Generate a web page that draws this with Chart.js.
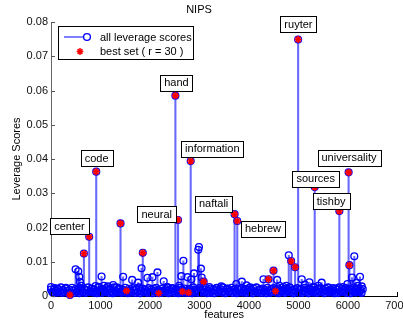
<!DOCTYPE html>
<html>
<head>
<meta charset="utf-8">
<title>NIPS leverage scores</title>
<script src="https://cdn.jsdelivr.net/npm/chart.js@4/dist/chart.umd.min.js"></script>
<style>
    html, body { margin: 0; padding: 0; background: #fff; }
    canvas { display: block; }
</style>
</head>
<body>
<canvas id="chartLeverage" width="403" height="322"></canvas>
<script>
// Stem plot - leverage scores of NIPS features

const chartTitle = 'NIPS';
const xTitle = 'features';
const yTitle = 'Leverage Scores';
const xTicks = [0, 1000, 2000, 3000, 4000, 5000, 6000, 7000];
const yTicks = [0, 0.01, 0.02, 0.03, 0.04, 0.05, 0.06, 0.07, 0.08];

// Features rising above the dense band
const featureIdx = [
    0, 60, 120, 302, 383, 497, 551, 571, 585, 610, 665, 772, 900, 914, 960, 1022, 1070,
    1150, 1256, 1330, 1405, 1458, 1526, 1640, 1761, 1830, 1855, 1949, 2050, 2151, 2177, 2278,
    2350, 2450, 2514, 2567, 2590, 2635, 2655, 2675, 2760, 2782, 2823, 2837, 2890, 2976, 2990,
    3030, 3045, 3085, 3200, 3350, 3441, 3560, 3710, 3744, 3764, 3857, 3950, 4026, 4150, 4294,
    4395, 4496, 4536, 4570, 4620, 4700, 4752, 4805, 4853, 4933, 4994, 5067, 5130, 5222, 5300,
    5329, 5400, 5470, 5600, 5699, 5827, 5900, 5990, 6014, 6030, 6083, 6129, 6170, 6200, 6244, 6280
];
const leverage = [
    0.0026, 0.0019, 0.0021, 0.0024, 0.0003, 0.0078, 0.0072, 0.0056, 0.0041, 0.0030, 0.0124, 0.0173, 0.0029, 0.0363, 0.0027, 0.0057, 0.0030,
    0.0028, 0.0032, 0.0025, 0.0212, 0.0056, 0.0015, 0.0047, 0.0039, 0.0081, 0.0126, 0.0053, 0.0055, 0.0069, 0.0008, 0.0043,
    0.0026, 0.0022, 0.0585, 0.0222, 0.0030, 0.0058, 0.0013, 0.0103, 0.0055, 0.0010, 0.0394, 0.0049, 0.0066, 0.0135, 0.0143,
    0.0080, 0.0054, 0.0042, 0.0026, 0.0024, 0.0028, 0.0022, 0.0239, 0.0035, 0.0219, 0.0042, 0.0031, 0.0025, 0.0024, 0.0049,
    0.0049, 0.0074, 0.0014, 0.0047, 0.0030, 0.0026, 0.0030, 0.0119, 0.0102, 0.0084, 0.0749, 0.0049, 0.0033, 0.0040, 0.0027,
    0.0318, 0.0030, 0.0039, 0.0025, 0.0023, 0.0248, 0.0026, 0.0035, 0.0361, 0.0090, 0.0054, 0.0116, 0.0038, 0.0030, 0.0056, 0.0028
];

// Dense band of small scores along the baseline
const bandIdx = [
    0, 25, 50, 75, 100, 125, 150, 175, 200, 225, 250, 275, 300, 325, 350, 375,
    400, 425, 450, 475, 500, 525, 550, 575, 600, 625, 650, 675, 700, 725, 750, 775,
    800, 825, 850, 875, 900, 925, 950, 975, 1000, 1025, 1050, 1075, 1100, 1125, 1150, 1175,
    1200, 1225, 1250, 1275, 1300, 1325, 1350, 1375, 1400, 1425, 1450, 1475, 1500, 1525, 1550, 1575,
    1600, 1625, 1650, 1675, 1700, 1725, 1750, 1775, 1800, 1825, 1850, 1875, 1900, 1925, 1950, 1975,
    2000, 2025, 2050, 2075, 2100, 2125, 2150, 2175, 2200, 2225, 2250, 2275, 2300, 2325, 2350, 2375,
    2400, 2425, 2450, 2475, 2500, 2525, 2550, 2575, 2600, 2625, 2650, 2675, 2700, 2725, 2750, 2775,
    2800, 2825, 2850, 2875, 2900, 2925, 2950, 2975, 3000, 3025, 3050, 3075, 3100, 3125, 3150, 3175,
    3200, 3225, 3250, 3275, 3300, 3325, 3350, 3375, 3400, 3425, 3450, 3475, 3500, 3525, 3550, 3575,
    3600, 3625, 3650, 3675, 3700, 3725, 3750, 3775, 3800, 3825, 3850, 3875, 3900, 3925, 3950, 3975,
    4000, 4025, 4050, 4075, 4100, 4125, 4150, 4175, 4200, 4225, 4250, 4275, 4300, 4325, 4350, 4375,
    4400, 4425, 4450, 4475, 4500, 4525, 4550, 4575, 4600, 4625, 4650, 4675, 4700, 4725, 4750, 4775,
    4800, 4825, 4850, 4875, 4900, 4925, 4950, 4975, 5000, 5025, 5050, 5075, 5100, 5125, 5150, 5175,
    5200, 5225, 5250, 5275, 5300, 5325, 5350, 5375, 5400, 5425, 5450, 5475, 5500, 5525, 5550, 5575,
    5600, 5625, 5650, 5675, 5700, 5725, 5750, 5775, 5800, 5825, 5850, 5875, 5900, 5925, 5950, 5975,
    6000, 6025, 6050, 6075, 6100, 6125, 6150, 6175, 6200, 6225, 6250, 6275, 6300
];
const bandScores = [
    0.0019, 0.0012, 0.0008, 0.0023, 0.0015, 0.0010, 0.0020, 0.0013, 0.0025, 0.0009, 0.0017, 0.0011, 0.0022, 0.0014, 0.0008, 0.0018,
    0.0010, 0.0024, 0.0016, 0.0009, 0.0021, 0.0013, 0.0018, 0.0008, 0.0023, 0.0015, 0.0011, 0.0020, 0.0009, 0.0017, 0.0025, 0.0012,
    0.0016, 0.0022, 0.0010, 0.0019, 0.0014, 0.0008, 0.0024, 0.0012, 0.0018, 0.0009, 0.0021, 0.0015, 0.0011, 0.0023, 0.0017, 0.0009,
    0.0020, 0.0013, 0.0008, 0.0025, 0.0016, 0.0010, 0.0019, 0.0022, 0.0012, 0.0009, 0.0018, 0.0014, 0.0024, 0.0011, 0.0008, 0.0021,
    0.0015, 0.0010, 0.0023, 0.0017, 0.0009, 0.0020, 0.0013, 0.0025, 0.0008, 0.0016, 0.0022, 0.0011, 0.0018, 0.0014, 0.0009, 0.0023,
    0.0012, 0.0019, 0.0008, 0.0021, 0.0015, 0.0024, 0.0010, 0.0017, 0.0013, 0.0009, 0.0022, 0.0016, 0.0011, 0.0020, 0.0025, 0.0008,
    0.0018, 0.0011, 0.0023, 0.0014, 0.0009, 0.0020, 0.0016, 0.0008, 0.0024, 0.0012, 0.0019, 0.0010, 0.0022, 0.0015, 0.0009, 0.0017,
    0.0021, 0.0013, 0.0008, 0.0025, 0.0011, 0.0018, 0.0015, 0.0009, 0.0023, 0.0017, 0.0010, 0.0020, 0.0012, 0.0024, 0.0008, 0.0016,
    0.0009, 0.0022, 0.0014, 0.0019, 0.0008, 0.0017, 0.0023, 0.0011, 0.0015, 0.0020, 0.0010, 0.0025, 0.0013, 0.0008, 0.0018, 0.0021,
    0.0012, 0.0016, 0.0024, 0.0009, 0.0019, 0.0014, 0.0008, 0.0022, 0.0017, 0.0011, 0.0023, 0.0010, 0.0015, 0.0020, 0.0009, 0.0018,
    0.0023, 0.0011, 0.0017, 0.0008, 0.0021, 0.0014, 0.0025, 0.0010, 0.0016, 0.0019, 0.0009, 0.0022, 0.0013, 0.0018, 0.0008, 0.0024,
    0.0015, 0.0009, 0.0020, 0.0012, 0.0023, 0.0017, 0.0010, 0.0021, 0.0008, 0.0016, 0.0024, 0.0013, 0.0019, 0.0009, 0.0022, 0.0014,
    0.0018, 0.0025, 0.0011, 0.0016, 0.0008, 0.0020, 0.0013, 0.0023, 0.0010, 0.0017, 0.0021, 0.0009, 0.0015, 0.0024, 0.0012, 0.0019,
    0.0008, 0.0022, 0.0014, 0.0018, 0.0010, 0.0025, 0.0016, 0.0009, 0.0020, 0.0013, 0.0023, 0.0011, 0.0017, 0.0008, 0.0021, 0.0015,
    0.0024, 0.0010, 0.0019, 0.0012, 0.0016, 0.0008, 0.0022, 0.0018, 0.0009, 0.0025, 0.0014, 0.0020, 0.0011, 0.0017, 0.0023, 0.0009,
    0.0016, 0.0021, 0.0008, 0.0019, 0.0013, 0.0024, 0.0010, 0.0017, 0.0022, 0.0012, 0.0018, 0.0009, 0.0020
];

// Best set (r = 30) - the visible ones
const bestIdx = [
    383, 665, 772, 914, 1405, 1526, 1855, 2177, 2514, 2567, 2655, 2782, 2823,
    3085, 3710, 3764, 4395, 4496, 4536, 4853, 4933, 4994, 5329, 5827, 6014, 6030
];
const bestScores = [
    0.0003, 0.0124, 0.0173, 0.0363, 0.0212, 0.0015, 0.0126, 0.0008, 0.0585, 0.0222, 0.0013, 0.0010, 0.0394,
    0.0042, 0.0239, 0.0219, 0.0049, 0.0074, 0.0014, 0.0102, 0.0084, 0.0749, 0.0318, 0.0248, 0.0361, 0.0090
];

// Word labels (box centre in data units)
const labelWords = ['center', 'code', 'hand', 'neural', 'information', 'naftali', 'hebrew', 'ruyter', 'sources', 'tishby', 'universality'];
const labelX = [373, 921, 2534, 2137, 3260, 3286, 4284, 5000, 5349, 5661, 6022];
const labelY = [0.0203, 0.0403, 0.0622, 0.0239, 0.0430, 0.0269, 0.0196, 0.0794, 0.0343, 0.0276, 0.0404];

const FONT = '"Liberation Sans", Arial, Helvetica, sans-serif';

function toPoints(xs, ys) {
    return xs.map((v, i) => ({ x: v, y: ys[i] }));
}

// Labels, inward ticks and legend box
const annotate = {
    id: 'annotate',
    afterDatasetsDraw(chart) {
        const { ctx, chartArea: a, scales: { x, y } } = chart;
        ctx.save();

        // inward tick marks
        ctx.lineWidth = 1;
        ctx.strokeStyle = '#555';
        yTicks.forEach(v => {
            const py = Math.round(y.getPixelForValue(v)) + 0.5;
            ctx.beginPath(); ctx.moveTo(a.left, py); ctx.lineTo(a.left + 4, py); ctx.stroke();
        });
        ctx.strokeStyle = '#000';
        xTicks.forEach(v => {
            const px = Math.round(x.getPixelForValue(v)) + 0.5;
            ctx.beginPath(); ctx.moveTo(px, a.bottom); ctx.lineTo(px, a.bottom - 4); ctx.stroke();
        });

        // word boxes
        ctx.font = '11px ' + FONT;
        ctx.textAlign = 'center';
        ctx.textBaseline = 'middle';
        labelWords.forEach((w, i) => {
            const cx = x.getPixelForValue(labelX[i]);
            const cy = y.getPixelForValue(labelY[i]);
            const bw = Math.round(ctx.measureText(w).width + 8);
            const bx = Math.round(cx - bw / 2) + 0.5;
            const by = Math.round(cy - 8) + 0.5;
            ctx.fillStyle = '#fff';
            ctx.fillRect(bx, by, bw, 16);
            ctx.strokeStyle = '#000';
            ctx.strokeRect(bx, by, bw, 16);
            ctx.fillStyle = '#000';
            ctx.fillText(w, cx, cy + 0.5);
        });

        // legend
        const lx = a.left + 7, ly = a.top + 4;
        ctx.fillStyle = '#fff';
        ctx.fillRect(lx + 0.5, ly + 0.5, 135, 33);
        ctx.strokeStyle = '#000';
        ctx.strokeRect(lx + 0.5, ly + 0.5, 135, 33);

        const row1 = ly + 11, row2 = ly + 25.5;
        ctx.strokeStyle = '#0000ff';
        ctx.beginPath(); ctx.moveTo(lx + 6, row1); ctx.lineTo(lx + 29, row1); ctx.stroke();
        ctx.lineWidth = 1.35;
        Chart.helpers.drawPoint(ctx, { pointStyle: 'circle', radius: 3.4, borderWidth: 1.35 }, lx + 29, row1);
        ctx.strokeStyle = '#ff0000';
        ctx.fillStyle = '#ff0000';
        ctx.lineWidth = 1.5;
        Chart.helpers.drawPoint(ctx, { pointStyle: 'star', radius: 3.4, borderWidth: 1.5 }, lx + 22, row2);

        ctx.fillStyle = '#000';
        ctx.textAlign = 'left';
        const ds = chart.data.datasets;
        ctx.fillText(ds[1].label, lx + 42, row1 + 0.5);
        ctx.fillText(ds[2].label, lx + 42, row2 + 0.5);

        ctx.restore();
    }
};

document.addEventListener('DOMContentLoaded', function() {
    Chart.defaults.font.family = FONT;
    Chart.defaults.font.size = 11;
    Chart.defaults.color = '#000';

    const allIdx = featureIdx.concat(bandIdx);
    const allScores = leverage.concat(bandScores);

    new Chart(document.getElementById('chartLeverage'), {
        type: 'scatter',
        data: {
            datasets: [
                {
                    type: 'bar',
                    label: 'stems',
                    data: toPoints(allIdx, allScores),
                    backgroundColor: 'rgba(40, 40, 255, 0.7)',
                    borderWidth: 0,
                    barThickness: 1.4,
                    order: 3
                },
                {
                    label: 'all leverage scores',
                    data: toPoints(allIdx, allScores),
                    pointStyle: 'circle',
                    pointRadius: 3.4,
                    pointBorderWidth: 1.35,
                    borderColor: '#0000ff',
                    backgroundColor: 'rgba(0, 0, 0, 0)',
                    clip: false,
                    order: 2
                },
                {
                    label: 'best set ( r = 30 )',
                    data: toPoints(bestIdx, bestScores),
                    pointStyle: 'star',
                    pointRadius: 3.6,
                    pointBorderWidth: 1.6,
                    borderColor: '#ff0000',
                    backgroundColor: '#ff0000',
                    clip: false,
                    order: 1
                }
            ]
        },
        options: {
            responsive: false,
            animation: false,
            layout: { padding: { left: 0, right: 5, top: 0, bottom: 0 } },
            plugins: {
                legend: { display: false },
                tooltip: { enabled: false },
                title: {
                    display: true,
                    text: chartTitle,
                    font: { size: 11, weight: 'normal' },
                    padding: { top: 3, bottom: 5.8 }
                }
            },
            scales: {
                x: {
                    type: 'linear',
                    min: 0,
                    max: 7000,
                    offset: false,
                    z: 1,
                    grid: { display: false, drawTicks: false, offset: false },
                    border: { display: true, color: '#000', width: 1 },
                    ticks: { padding: 3, maxRotation: 0, autoSkip: false, color: '#111', callback: v => String(v) },
                    title: { display: true, text: xTitle, font: { size: 11 }, padding: { top: 0, bottom: 0 } },
                    afterBuildTicks: s => { s.ticks = xTicks.map(v => ({ value: v })); },
                    afterFit: s => { s.height = 26; s.paddingLeft = 0; s.paddingRight = 0; }
                },
                y: {
                    type: 'linear',
                    min: 0,
                    max: 0.08,
                    grid: { display: false, drawTicks: false },
                    border: { display: true, color: '#666', width: 1 },
                    ticks: { padding: 3, color: '#111', callback: v => String(v) },
                    title: { display: true, text: yTitle, font: { size: 11 }, padding: { top: 10, bottom: 0 } },
                    afterBuildTicks: s => { s.ticks = yTicks.map(v => ({ value: v })); },
                    afterFit: s => { s.width = 51; s.paddingTop = 0; s.paddingBottom = 0; }
                }
            }
        },
        plugins: [annotate]
    });
});
</script>
</body>
</html>
